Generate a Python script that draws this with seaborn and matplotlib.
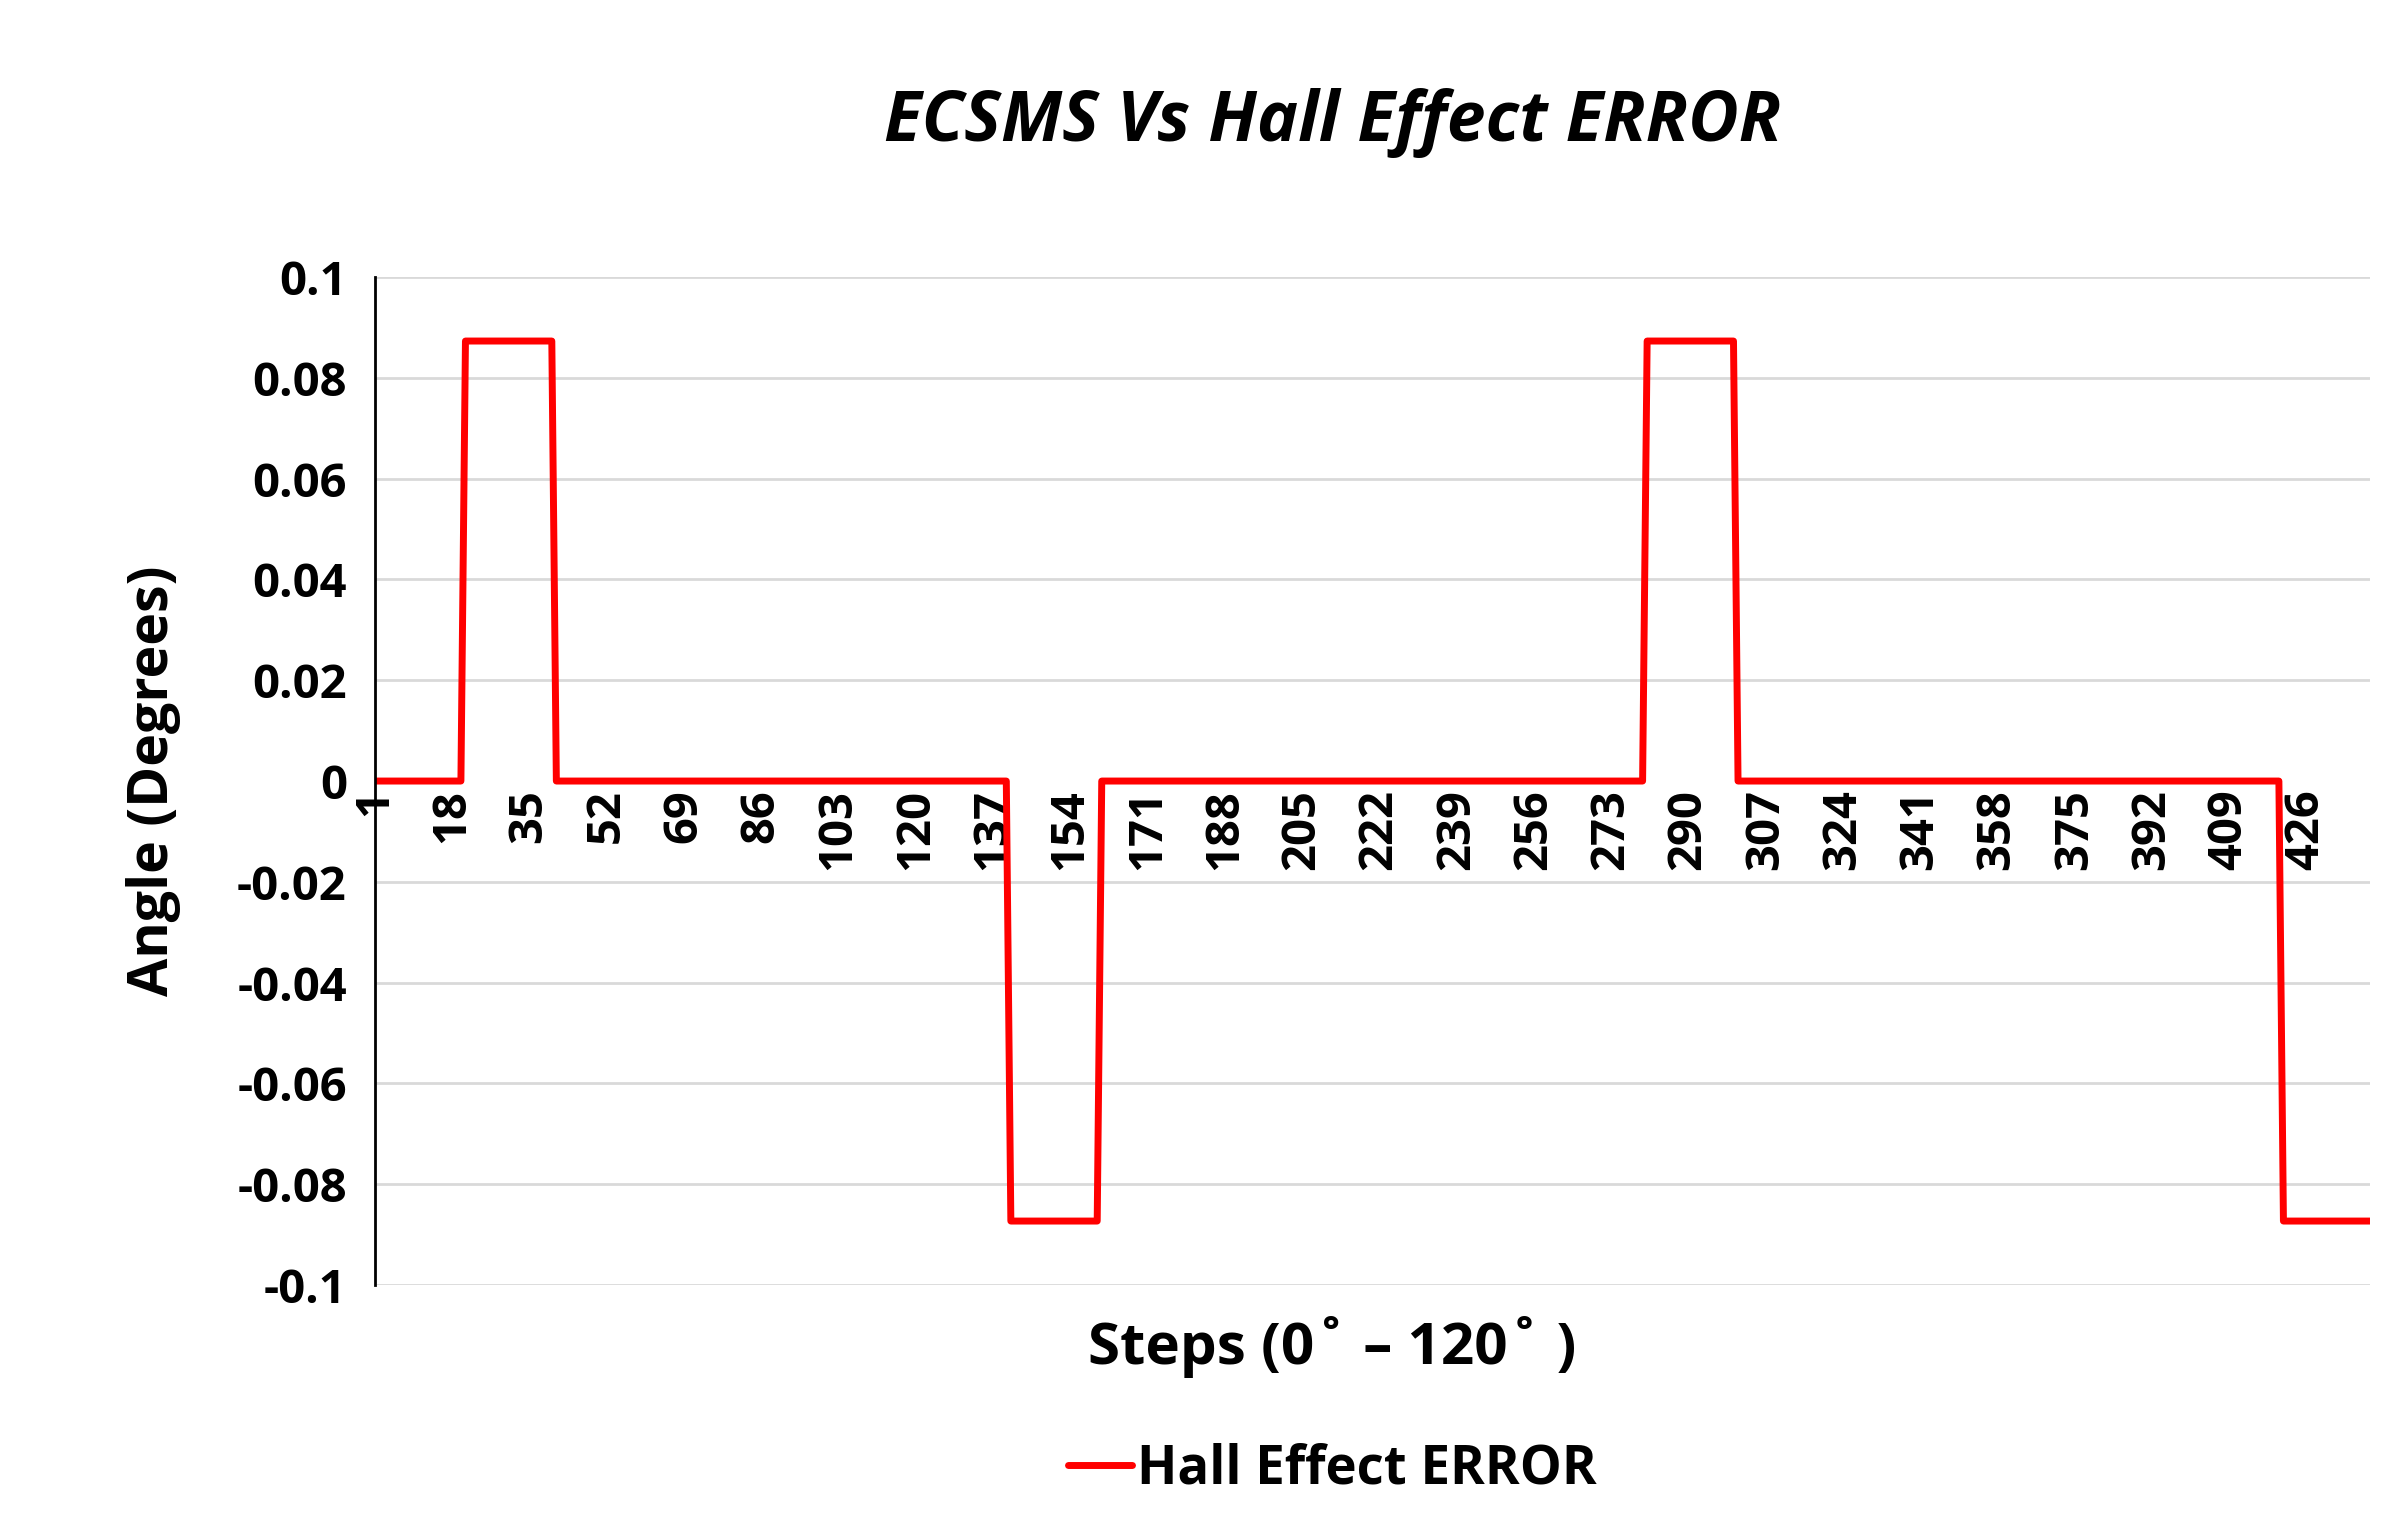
import matplotlib
matplotlib.use("Agg")
import matplotlib.pyplot as plt
import seaborn as sns
import pandas as pd

# change points of the error trace (step, error in degrees)
steps = [1, 20, 21, 40, 41, 140, 141, 160, 161, 280, 281, 300, 301, 420, 421, 440]
error = [0, 0, 0.0873, 0.0873, 0, 0, -0.0873, -0.0873, 0, 0, 0.0873, 0.0873, 0, 0, -0.0873, -0.0873]
tick_steps = list(range(1, 427, 17))
y_ticks = [-0.1, -0.08, -0.06, -0.04, -0.02, 0, 0.02, 0.04, 0.06, 0.08, 0.1]
y_labels = ["-0.1", "-0.08", "-0.06", "-0.04", "-0.02", "0", "0.02", "0.04", "0.06", "0.08", "0.1"]

df = pd.DataFrame({"step": steps, "Hall Effect ERROR": error})

sns.set_theme(style="white")
plt.rcParams["font.family"] = ["Open Sans", "DejaVu Sans"]
plt.rcParams["font.weight"] = "bold"
plt.rcParams["text.color"] = "black"
plt.rcParams["axes.labelcolor"] = "black"
plt.rcParams["xtick.color"] = "black"
plt.rcParams["ytick.color"] = "black"

fig = plt.figure(figsize=(24.01, 15.39), dpi=100)
ax = fig.add_axes([0.156, 0.165, 0.831, 0.655])

for y in y_ticks:
    if y != 0:
        ax.axhline(y, color="#d9d9d9", lw=2, zorder=0)

sns.lineplot(data=df, x="step", y="Hall Effect ERROR", color="#ff0000", lw=5,
             ax=ax, label="Hall Effect ERROR", legend=False)

ax.spines["bottom"].set_position(("data", 0))
ax.spines["bottom"].set_visible(False)
ax.spines["top"].set_visible(False)
ax.spines["right"].set_visible(False)
ax.spines["left"].set_color("black")
ax.spines["left"].set_linewidth(2)

ax.set_xlim(1, 440)
ax.set_ylim(-0.1, 0.1)
ax.set_yticks(y_ticks)
ax.set_yticklabels(y_labels, fontsize=34, fontweight="bold")
ax.set_xticks(tick_steps)
ax.set_xticklabels([str(t) for t in tick_steps], rotation=90, fontsize=34, fontweight="bold")
ax.tick_params(axis="x", length=0, pad=6)
ax.tick_params(axis="y", length=0, pad=20)

ax.set_xlabel("")
ax.set_ylabel("Angle (Degrees)", fontsize=40, fontweight="bold", labelpad=40)
fig.text(0.555, 0.125, "Steps (0˚ – 120˚ )", ha="center", va="center", fontsize=42, fontweight="bold")
fig.text(0.555, 0.92, "ECSMS Vs Hall Effect ERROR", ha="center", va="center",
         fontsize=50, fontweight="bold", style="italic")

handles, labels = ax.get_legend_handles_labels()
fig.legend(handles, labels, loc="center", bbox_to_anchor=(0.555, 0.045), frameon=False,
           handlelength=1.2, handletextpad=0.1, prop={"weight": "bold", "size": 38})

fig.savefig("out.png", dpi=100)
